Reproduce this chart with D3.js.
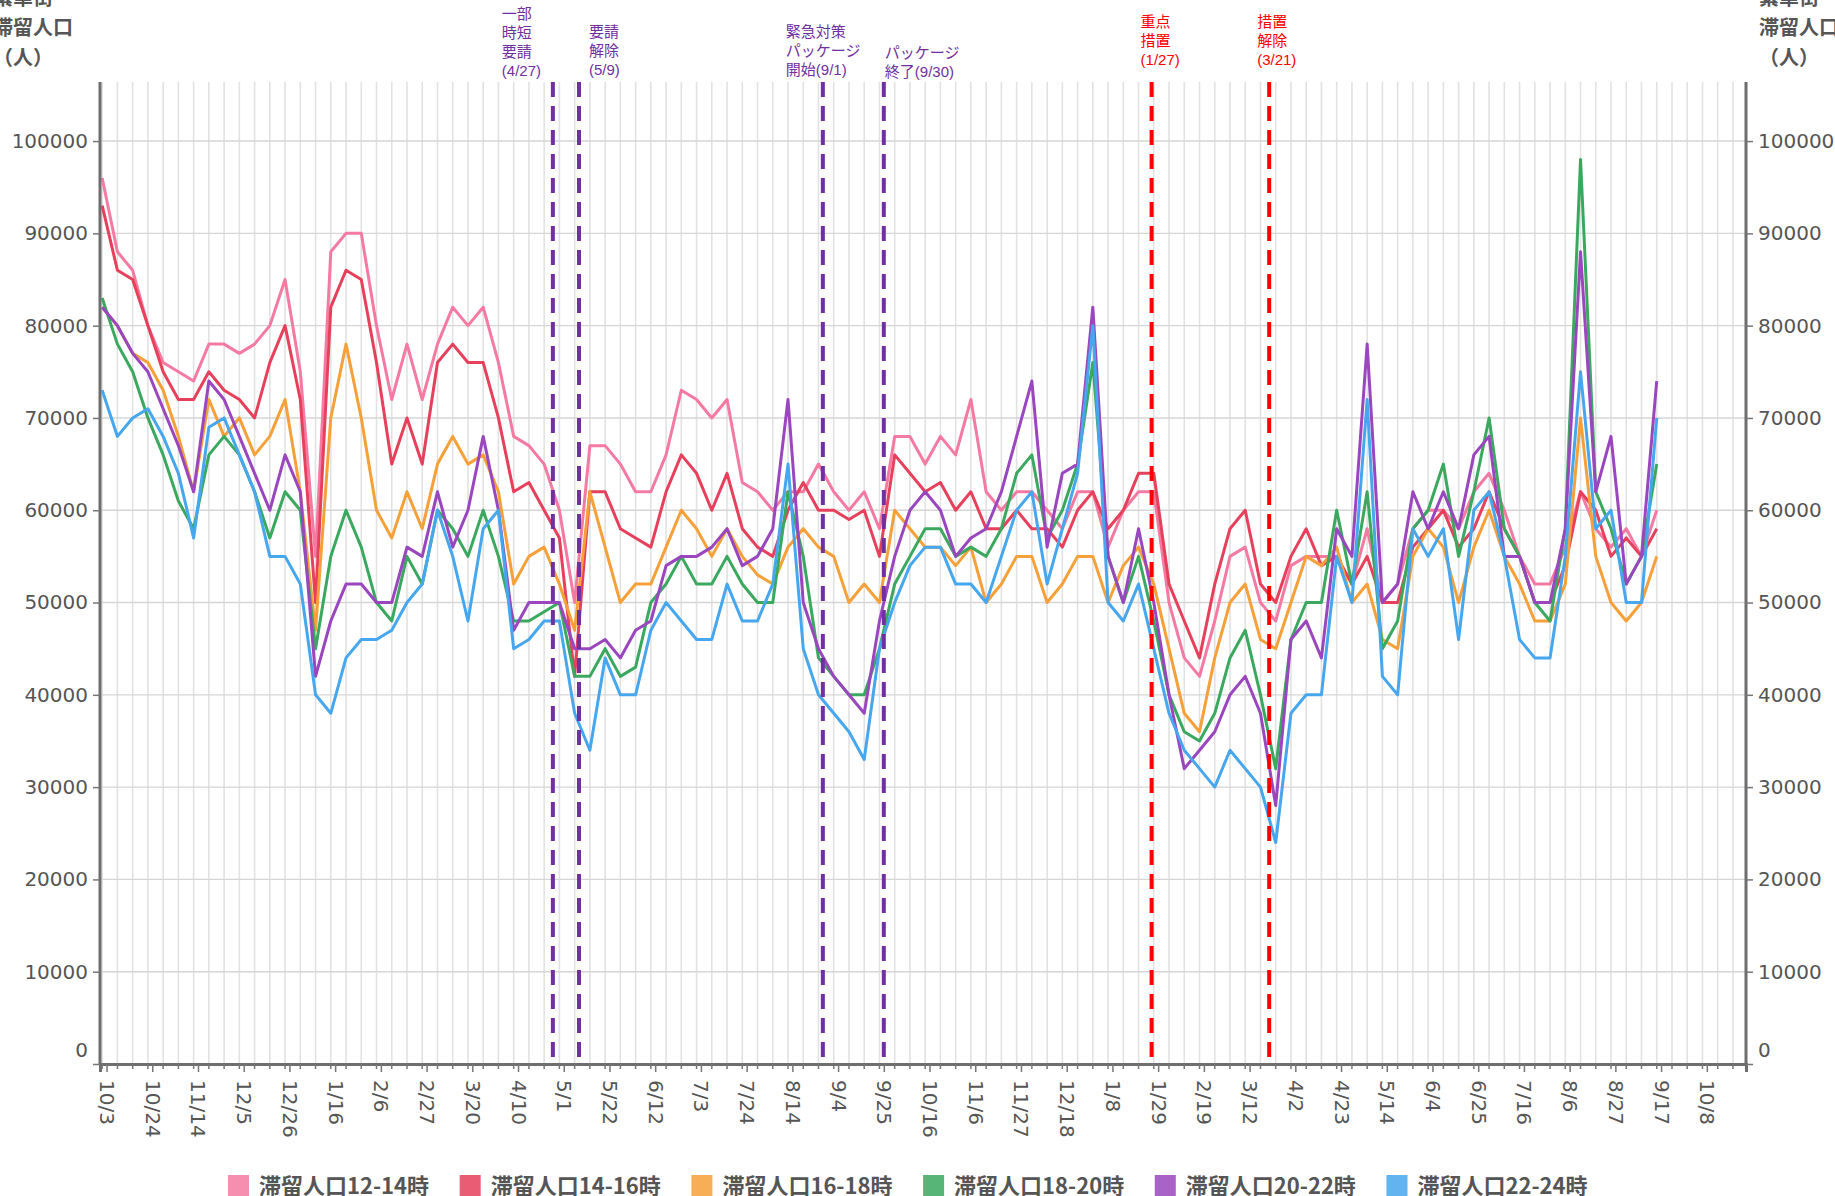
<!DOCTYPE html>
<html>
<head>
<meta charset="utf-8">
<script src="https://cdn.jsdelivr.net/npm/d3@7"></script>
<style>
  body { margin: 0; background: #fff; }
  svg { display: block; }
</style>
</head>
<body>
<div id="chart"></div>
<script>
// values in thousands of people, one reading per week starting 2020-10-01
var firstDay = new Date(2020, 9, 1);

var p12_14 = [96,88,86,80,76,75,74,78,78,77,78,
  80,85,75,55,88,90,90,80,72,78,
  72,78,82,80,82,76,68,67,65,60,
  50,67,67,65,62,62,66,73,72,70,
  72,63,62,60,62,62,65,62,60,62,
  58,68,68,65,68,66,72,62,60,62,
  62,60,58,62,62,56,60,62,62,50,
  44,42,48,55,56,50,48,54,55,55,
  55,52,58,50,52,58,60,60,58,62,
  64,60,55,52,52,56,62,58,56,58,55,60];
var p14_16 = [93,86,85,80,75,72,72,75,73,72,70,
  76,80,72,50,82,86,85,76,65,70,
  65,76,78,76,76,70,62,63,60,57,
  42,62,62,58,57,56,62,66,64,60,
  64,58,56,55,60,63,60,60,59,60,
  55,66,64,62,63,60,62,58,58,60,
  58,58,56,60,62,58,60,64,64,52,
  48,44,52,58,60,52,50,55,58,54,
  55,52,55,50,50,56,58,60,56,58,
  62,58,55,50,50,54,62,60,55,57,55,58];
var p16_18 = [82,80,77,76,73,68,62,72,68,70,66,
  68,72,62,47,70,78,70,60,57,62,
  58,65,68,65,66,62,52,55,56,52,
  47,62,56,50,52,52,56,60,58,55,
  58,55,53,52,56,58,56,55,50,52,
  50,60,58,56,56,54,56,50,52,55,
  55,50,52,55,55,50,54,56,52,45,
  38,36,44,50,52,46,45,50,55,54,
  56,50,52,46,45,55,58,56,50,56,
  60,55,52,48,48,52,70,55,50,48,50,55];
var p18_20 = [83,78,75,70,66,61,58,66,68,66,62,
  57,62,60,45,55,60,56,50,48,55,
  52,60,58,55,60,55,48,48,49,50,
  42,42,45,42,43,50,52,55,52,52,
  55,52,50,50,62,55,44,42,40,40,
  45,52,55,58,58,55,56,55,58,64,
  66,57,60,65,76,55,50,55,48,40,
  36,35,38,44,47,40,32,46,50,50,
  60,52,62,45,48,58,60,65,55,62,
  70,58,55,50,48,58,98,62,58,52,55,65];
var p20_22 = [82,80,77,75,71,67,62,74,72,68,64,
  60,66,62,42,48,52,52,50,50,56,
  55,62,56,60,68,60,47,50,50,50,
  45,45,46,44,47,48,54,55,55,56,
  58,54,55,58,72,50,45,42,40,38,
  48,55,60,62,60,55,57,58,62,68,
  74,56,64,65,82,55,50,58,50,40,
  32,34,36,40,42,38,28,46,48,44,
  58,55,78,50,52,62,58,62,58,66,
  68,55,55,50,50,58,88,62,68,52,55,74];
var p22_24 = [73,68,70,71,68,64,57,69,70,66,62,
  55,55,52,40,38,44,46,46,47,50,
  52,60,55,48,58,60,45,46,48,48,
  38,34,44,40,40,47,50,48,46,46,
  52,48,48,52,65,45,40,38,36,33,
  45,50,54,56,56,52,52,50,55,60,
  62,52,58,64,80,50,48,52,45,38,
  34,32,30,34,32,30,24,38,40,40,
  55,50,72,42,40,58,55,58,46,60,
  62,55,46,44,44,55,75,58,60,50,50,70];

var seriesNames = ["滞留人口12-14時","滞留人口14-16時","滞留人口16-18時","滞留人口18-20時","滞留人口20-22時","滞留人口22-24時"];
var seriesValues = [p12_14, p14_16, p16_18, p18_20, p20_22, p22_24];

var tickLabels = ["10/3","10/24","11/14","12/5","12/26","1/16","2/6","2/27","3/20","4/10","5/1","5/22","6/12","7/3","7/24","8/14","9/4","9/25","10/16","11/6","11/27","12/18","1/8","1/29","2/19","3/12","4/2","4/23","5/14","6/4","6/25","7/16","8/6","8/27","9/17","10/8"];
var yTicks = [0,10000,20000,30000,40000,50000,60000,70000,80000,90000,100000];

// dashed event lines (date where each line is drawn) and their notes
var markerDates = ["2021-04-26","2021-05-08","2021-08-28","2021-09-25","2022-01-26","2022-03-21"];
var markerNotes = [["一部","時短","要請","(4/27)"],["要請","解除","(5/9)"],["緊急対策","パッケージ","開始(9/1)"],["パッケージ","終了(9/30)"],["重点","措置","(1/27)"],["措置","解除","(3/21)"]];
var markerKinds = ["p","p","p","p","r","r"];

// ---- layout / style ----
var width = 1835, height = 1196;
var plotL = 100, plotR = 1746, plotT = 82, plotB = 1064;
var colors = ["#f57aa2","#e6405c","#f6a03a","#3aa95f","#9a46be","#47a7ee"];
var noteColor = { p: "#7030a0", r: "#ff0000" };
var noteDx = [-51, 10, -37, 1, -11, -12];
var noteBottom = [71, 70, 70, 72, 60, 60];

var svg = d3.select("#chart").append("svg")
  .attr("width", width)
  .attr("height", height);

var x = d3.scaleTime()
  .domain([new Date(2020, 8, 30), new Date(2022, 9, 26)])
  .range([plotL, plotR]);
var y = d3.scaleLinear()
  .domain([0, 106400])
  .range([plotB, plotT]);

// weekly grid
var gridDays = d3.timeDay.range(new Date(2020, 9, 1), new Date(2022, 9, 26), 7);
svg.append("g").selectAll("line").data(gridDays).enter().append("line")
  .attr("x1", function(d) { return x(d); })
  .attr("x2", function(d) { return x(d); })
  .attr("y1", plotT).attr("y2", plotB)
  .attr("stroke", "#e2e2e2").attr("stroke-width", 1.6);

svg.append("g").selectAll("line").data(yTicks.slice(1)).enter().append("line")
  .attr("x1", plotL).attr("x2", plotR)
  .attr("y1", function(d) { return y(d); })
  .attr("y2", function(d) { return y(d); })
  .attr("stroke", "#d6d6d6").attr("stroke-width", 1.4);

// lines
var dates = p12_14.map(function(v, i) { return d3.timeDay.offset(firstDay, 7 * i); });
var line = d3.line()
  .x(function(d, i) { return x(dates[i]); })
  .y(function(d) { return y(d * 1000); });

svg.append("g").selectAll("path").data(seriesValues).enter().append("path")
  .attr("d", line)
  .attr("fill", "none")
  .attr("stroke", function(d, i) { return colors[i]; })
  .attr("stroke-width", 3)
  .attr("stroke-linejoin", "round");

// axes
var tickDates = tickLabels.map(function(t, i) { return d3.timeDay.offset(new Date(2020, 9, 3), 21 * i); });

var gx = svg.append("g")
  .attr("transform", "translate(0," + plotB + ")")
  .call(d3.axisBottom(x).tickValues(tickDates).tickSize(8).tickPadding(10)
    .tickFormat(function(d, i) { return tickLabels[i]; }));
gx.selectAll(".tick text")
  .attr("transform", "rotate(90)")
  .attr("x", 16).attr("y", 0).attr("dy", "0.35em")
  .style("text-anchor", "start");

svg.append("g").attr("transform", "translate(0," + plotB + ")")
  .selectAll("line").data(gridDays).enter().append("line")
  .attr("x1", function(d) { return x(d); })
  .attr("x2", function(d) { return x(d); })
  .attr("y1", 0).attr("y2", 5)
  .attr("stroke", "#777").attr("stroke-width", 1.5);

var gl = svg.append("g")
  .attr("transform", "translate(" + plotL + ",0)")
  .call(d3.axisLeft(y).tickValues(yTicks).tickSize(7).tickPadding(5).tickFormat(d3.format("d")));
var gr = svg.append("g")
  .attr("transform", "translate(" + plotR + ",0)")
  .call(d3.axisRight(y).tickValues(yTicks).tickSize(7).tickPadding(5).tickFormat(d3.format("d")));

[gx, gl, gr].forEach(function(g) {
  g.select(".domain").attr("stroke", "#6e6e6e").attr("stroke-width", 3);
  g.selectAll(".tick line").attr("stroke", "#777").attr("stroke-width", 1.5);
  g.selectAll(".tick text").attr("fill", "#555")
    .style("font-family", "'DejaVu Sans', sans-serif").style("font-size", "20px");
});
gl.select(".domain").attr("d", "M0," + plotT + "V" + plotB);
gr.select(".domain").attr("d", "M0," + plotT + "V" + plotB);
gl.selectAll(".tick text").filter(function(d) { return d === 0; }).attr("y", -14);
gr.selectAll(".tick text").filter(function(d) { return d === 0; }).attr("y", -14);

// axis titles
var titleLines = ["繁華街", "滞留人口", "（人）"];
[-7, 1759].forEach(function(tx) {
  svg.append("g").selectAll("text").data(titleLines).enter().append("text")
    .attr("x", tx)
    .attr("y", function(d, i) { return -2 + i * 30; })
    .attr("dy", "0.35em")
    .attr("fill", "#555")
    .style("font-family", "'Noto Sans CJK JP', sans-serif")
    .style("font-size", "20px")
    .style("font-weight", "bold")
    .text(function(d) { return d; });
});

// event markers
markerDates.forEach(function(ds, i) {
  var mx = x(d3.timeParse("%Y-%m-%d")(ds));
  var c = noteColor[markerKinds[i]];
  svg.append("line")
    .attr("x1", mx).attr("x2", mx)
    .attr("y1", plotT).attr("y2", plotB - 6)
    .attr("stroke", c).attr("stroke-width", 4)
    .attr("stroke-dasharray", "15,9");
  var n = markerNotes[i].length;
  svg.append("g").selectAll("text").data(markerNotes[i]).enter().append("text")
    .attr("x", mx + noteDx[i])
    .attr("y", function(d, j) { return noteBottom[i] - (n - 1 - j) * 19; })
    .attr("dy", "0.35em")
    .attr("fill", c)
    .style("font-family", "'Liberation Sans', 'Noto Sans CJK JP', sans-serif")
    .style("font-size", "15px")
    .text(function(d) { return d; });
});

// legend
var legend = svg.append("g").selectAll("g").data(seriesNames).enter().append("g")
  .attr("transform", function(d, i) { return "translate(" + (228 + i * 231.7) + ",1175)"; });
legend.append("rect")
  .attr("width", 21).attr("height", 21)
  .attr("fill", function(d, i) { return colors[i]; })
  .attr("opacity", 0.85);
legend.append("text")
  .attr("x", 31).attr("y", 11).attr("dy", "0.35em")
  .attr("fill", "#555")
  .style("font-family", "'Noto Sans CJK JP', sans-serif")
  .style("font-size", "22px")
  .style("font-weight", "bold")
  .text(function(d) { return d; });
</script>
</body>
</html>
